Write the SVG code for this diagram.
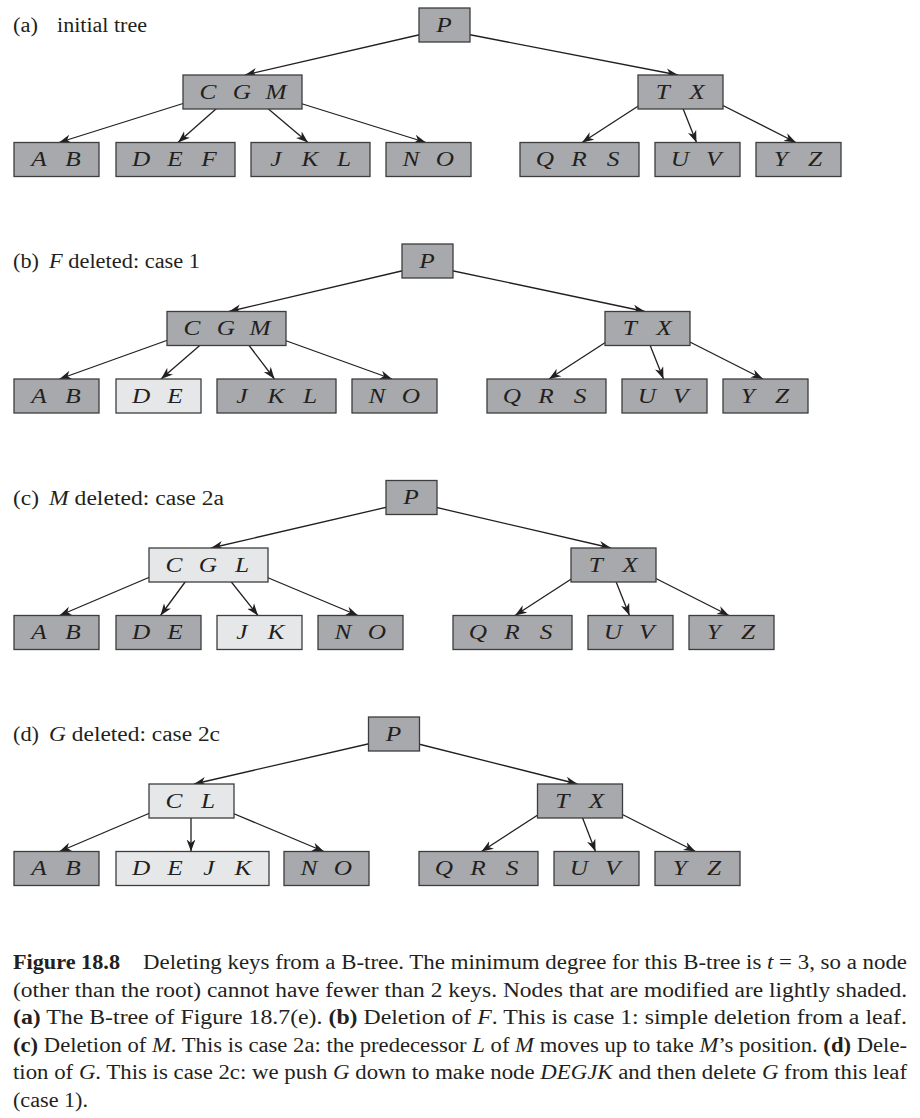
<svg xmlns="http://www.w3.org/2000/svg" width="920" height="1118" viewBox="0 0 920 1118">
<defs>
<marker id="ah" markerUnits="userSpaceOnUse" markerWidth="13" markerHeight="10" refX="12" refY="5" orient="auto" viewBox="0 0 13 10">
<path d="M0,0.6 L12,5 L0,9.4 L3.5,5 z" fill="#231f20"/>
</marker>
<style>
.dk{fill:#a7a9ac;stroke:#3d3d3d;stroke-width:1.3}
.lt{fill:#e6e7e8;stroke:#3d3d3d;stroke-width:1.3}
.k{font-family:"Liberation Serif","Times New Roman",serif;font-style:italic;font-size:22px;text-anchor:middle;fill:#231f20;transform-box:fill-box;transform-origin:center;transform:scaleX(1.15)}
.e{stroke:#231f20;stroke-width:1.3;fill:none;marker-end:url(#ah)}
.lab{font-family:"Liberation Serif","Times New Roman",serif;font-size:20px;fill:#231f20}
.cap{font-family:"Liberation Serif","Times New Roman",serif;font-size:20px;fill:#231f20}
.b{font-weight:bold}
.i{font-style:italic}
</style>
</defs>
<rect width="920" height="1118" fill="#ffffff"/>

<g id="labels">
<text class="lab" x="13" y="31.5" textLength="25" lengthAdjust="spacingAndGlyphs">(a)</text>
<text class="lab" x="57" y="31.5" textLength="90" lengthAdjust="spacingAndGlyphs">initial tree</text>
<text class="lab" x="13" y="268" textLength="26" lengthAdjust="spacingAndGlyphs">(b)</text>
<text class="lab" x="49" y="268" textLength="151" lengthAdjust="spacingAndGlyphs"><tspan class="i">F</tspan> deleted: case 1</text>
<text class="lab" x="13" y="504.5" textLength="26" lengthAdjust="spacingAndGlyphs">(c)</text>
<text class="lab" x="49" y="504.5" textLength="175" lengthAdjust="spacingAndGlyphs"><tspan class="i">M</tspan> deleted: case 2a</text>
<text class="lab" x="13" y="741" textLength="26" lengthAdjust="spacingAndGlyphs">(d)</text>
<text class="lab" x="49" y="741" textLength="171" lengthAdjust="spacingAndGlyphs"><tspan class="i">G</tspan> deleted: case 2c</text>
</g>

<g id="connectors">
<line class="e" x1="427" y1="33" x2="245" y2="75"/>
<line class="e" x1="461" y1="33" x2="678" y2="75"/>
<line class="e" x1="191" y1="101" x2="59" y2="142.5"/>
<line class="e" x1="225" y1="101" x2="178" y2="142.5"/>
<line class="e" x1="259" y1="101" x2="308" y2="142.5"/>
<line class="e" x1="293" y1="101" x2="426" y2="142.5"/>
<line class="e" x1="646" y1="101" x2="582" y2="142.5"/>
<line class="e" x1="680" y1="101" x2="696.5" y2="142.5"/>
<line class="e" x1="714" y1="101" x2="796" y2="142.5"/>

<line class="e" x1="410" y1="269" x2="229" y2="311.5"/>
<line class="e" x1="444" y1="269" x2="645" y2="311.5"/>
<line class="e" x1="175" y1="337.5" x2="59.5" y2="379"/>
<line class="e" x1="209" y1="337.5" x2="161" y2="379"/>
<line class="e" x1="243" y1="337.5" x2="274.5" y2="379"/>
<line class="e" x1="277" y1="337.5" x2="392" y2="379"/>
<line class="e" x1="613" y1="337.5" x2="549" y2="379"/>
<line class="e" x1="647" y1="337.5" x2="663.5" y2="379"/>
<line class="e" x1="681" y1="337.5" x2="763" y2="379"/>

<line class="e" x1="394" y1="505.5" x2="211" y2="548"/>
<line class="e" x1="428" y1="505.5" x2="611" y2="548"/>
<line class="e" x1="157" y1="574" x2="59.5" y2="615.5"/>
<line class="e" x1="191" y1="574" x2="160.5" y2="615.5"/>
<line class="e" x1="225" y1="574" x2="258" y2="615.5"/>
<line class="e" x1="259" y1="574" x2="358" y2="615.5"/>
<line class="e" x1="579" y1="574" x2="515" y2="615.5"/>
<line class="e" x1="613" y1="574" x2="629.5" y2="615.5"/>
<line class="e" x1="647" y1="574" x2="729" y2="615.5"/>

<line class="e" x1="376.5" y1="742" x2="194" y2="784"/>
<line class="e" x1="410.5" y1="742" x2="577.5" y2="784"/>
<line class="e" x1="157" y1="810" x2="59.5" y2="851.5"/>
<line class="e" x1="191" y1="810" x2="191" y2="851.5"/>
<line class="e" x1="225" y1="810" x2="324" y2="851.5"/>
<line class="e" x1="545.5" y1="810" x2="481.5" y2="851.5"/>
<line class="e" x1="579.5" y1="810" x2="595.5" y2="851.5"/>
<line class="e" x1="613.5" y1="810" x2="695.5" y2="851.5"/>
</g>

<g id="a-P"><rect class="dk" x="419" y="8" width="51" height="34"/><text class="k" x="444" y="32">P</text></g>
<g id="a-CGM"><rect class="dk" x="183" y="75" width="119" height="34"/><text class="k" x="208" y="99">C</text><text class="k" x="242" y="99">G</text><text class="k" x="276" y="99">M</text></g>
<g id="a-TX"><rect class="dk" x="638" y="75" width="85" height="34"/><text class="k" x="663" y="99">T</text><text class="k" x="697" y="99">X</text></g>
<g id="a-AB"><rect class="dk" x="14" y="142.5" width="85" height="34"/><text class="k" x="39" y="166.5">A</text><text class="k" x="73" y="166.5">B</text></g>
<g id="a-DEF"><rect class="dk" x="116" y="142.5" width="119" height="34"/><text class="k" x="141" y="166.5">D</text><text class="k" x="175" y="166.5">E</text><text class="k" x="209" y="166.5">F</text></g>
<g id="a-JKL"><rect class="dk" x="251" y="142.5" width="119" height="34"/><text class="k" x="276" y="166.5">J</text><text class="k" x="310" y="166.5">K</text><text class="k" x="344" y="166.5">L</text></g>
<g id="a-NO"><rect class="dk" x="386" y="142.5" width="85" height="34"/><text class="k" x="411" y="166.5">N</text><text class="k" x="445" y="166.5">O</text></g>
<g id="a-QRS"><rect class="dk" x="520" y="142.5" width="119" height="34"/><text class="k" x="545" y="166.5">Q</text><text class="k" x="579" y="166.5">R</text><text class="k" x="613" y="166.5">S</text></g>
<g id="a-UV"><rect class="dk" x="655" y="142.5" width="85" height="34"/><text class="k" x="680" y="166.5">U</text><text class="k" x="714" y="166.5">V</text></g>
<g id="a-YZ"><rect class="dk" x="756" y="142.5" width="85" height="34"/><text class="k" x="781" y="166.5">Y</text><text class="k" x="815" y="166.5">Z</text></g>

<g id="b-P"><rect class="dk" x="402" y="244" width="51" height="34"/><text class="k" x="427" y="268">P</text></g>
<g id="b-CGM"><rect class="dk" x="167" y="311.5" width="119" height="34"/><text class="k" x="192" y="335.5">C</text><text class="k" x="226" y="335.5">G</text><text class="k" x="260" y="335.5">M</text></g>
<g id="b-TX"><rect class="dk" x="605" y="311.5" width="85" height="34"/><text class="k" x="630" y="335.5">T</text><text class="k" x="664" y="335.5">X</text></g>
<g id="b-AB"><rect class="dk" x="14" y="379" width="85" height="34"/><text class="k" x="39" y="403">A</text><text class="k" x="73" y="403">B</text></g>
<g id="b-DE"><rect class="lt" x="116" y="379" width="85" height="34"/><text class="k" x="141" y="403">D</text><text class="k" x="175" y="403">E</text></g>
<g id="b-JKL"><rect class="dk" x="217" y="379" width="119" height="34"/><text class="k" x="242" y="403">J</text><text class="k" x="276" y="403">K</text><text class="k" x="310" y="403">L</text></g>
<g id="b-NO"><rect class="dk" x="352" y="379" width="85" height="34"/><text class="k" x="377" y="403">N</text><text class="k" x="411" y="403">O</text></g>
<g id="b-QRS"><rect class="dk" x="487" y="379" width="119" height="34"/><text class="k" x="512" y="403">Q</text><text class="k" x="546" y="403">R</text><text class="k" x="580" y="403">S</text></g>
<g id="b-UV"><rect class="dk" x="622" y="379" width="85" height="34"/><text class="k" x="647" y="403">U</text><text class="k" x="681" y="403">V</text></g>
<g id="b-YZ"><rect class="dk" x="723" y="379" width="85" height="34"/><text class="k" x="748" y="403">Y</text><text class="k" x="782" y="403">Z</text></g>

<g id="c-P"><rect class="dk" x="386" y="480.5" width="51" height="34"/><text class="k" x="411" y="504.5">P</text></g>
<g id="c-CGL"><rect class="lt" x="149" y="548" width="119" height="34"/><text class="k" x="174" y="572">C</text><text class="k" x="208" y="572">G</text><text class="k" x="242" y="572">L</text></g>
<g id="c-TX"><rect class="dk" x="571" y="548" width="85" height="34"/><text class="k" x="596" y="572">T</text><text class="k" x="630" y="572">X</text></g>
<g id="c-AB"><rect class="dk" x="14" y="615.5" width="85" height="34"/><text class="k" x="39" y="639.5">A</text><text class="k" x="73" y="639.5">B</text></g>
<g id="c-DE"><rect class="dk" x="116" y="615.5" width="85" height="34"/><text class="k" x="141" y="639.5">D</text><text class="k" x="175" y="639.5">E</text></g>
<g id="c-JK"><rect class="lt" x="217" y="615.5" width="85" height="34"/><text class="k" x="242" y="639.5">J</text><text class="k" x="276" y="639.5">K</text></g>
<g id="c-NO"><rect class="dk" x="318" y="615.5" width="85" height="34"/><text class="k" x="343" y="639.5">N</text><text class="k" x="377" y="639.5">O</text></g>
<g id="c-QRS"><rect class="dk" x="453" y="615.5" width="119" height="34"/><text class="k" x="478" y="639.5">Q</text><text class="k" x="512" y="639.5">R</text><text class="k" x="546" y="639.5">S</text></g>
<g id="c-UV"><rect class="dk" x="588" y="615.5" width="85" height="34"/><text class="k" x="613" y="639.5">U</text><text class="k" x="647" y="639.5">V</text></g>
<g id="c-YZ"><rect class="dk" x="689" y="615.5" width="85" height="34"/><text class="k" x="714" y="639.5">Y</text><text class="k" x="748" y="639.5">Z</text></g>

<g id="d-P"><rect class="dk" x="368.5" y="717" width="51" height="34"/><text class="k" x="393.5" y="741">P</text></g>
<g id="d-CL"><rect class="lt" x="149" y="784" width="85" height="34"/><text class="k" x="174" y="808">C</text><text class="k" x="208" y="808">L</text></g>
<g id="d-TX"><rect class="dk" x="537.5" y="784" width="85" height="34"/><text class="k" x="562.5" y="808">T</text><text class="k" x="596.5" y="808">X</text></g>
<g id="d-AB"><rect class="dk" x="14" y="851.5" width="85" height="34"/><text class="k" x="39" y="875.5">A</text><text class="k" x="73" y="875.5">B</text></g>
<g id="d-DEJK"><rect class="lt" x="116" y="851.5" width="153" height="34"/><text class="k" x="141" y="875.5">D</text><text class="k" x="175" y="875.5">E</text><text class="k" x="209" y="875.5">J</text><text class="k" x="243" y="875.5">K</text></g>
<g id="d-NO"><rect class="dk" x="284" y="851.5" width="85" height="34"/><text class="k" x="309" y="875.5">N</text><text class="k" x="343" y="875.5">O</text></g>
<g id="d-QRS"><rect class="dk" x="419" y="851.5" width="119" height="34"/><text class="k" x="444" y="875.5">Q</text><text class="k" x="478" y="875.5">R</text><text class="k" x="512" y="875.5">S</text></g>
<g id="d-UV"><rect class="dk" x="554" y="851.5" width="85" height="34"/><text class="k" x="579" y="875.5">U</text><text class="k" x="613" y="875.5">V</text></g>
<g id="d-YZ"><rect class="dk" x="655" y="851.5" width="85" height="34"/><text class="k" x="680" y="875.5">Y</text><text class="k" x="714" y="875.5">Z</text></g>

<g id="caption">
<text class="cap b" x="13" y="969" textLength="107" lengthAdjust="spacingAndGlyphs">Figure 18.8</text>
<text class="cap" x="143" y="969" textLength="764" lengthAdjust="spacingAndGlyphs">Deleting keys from a B-tree. The minimum degree for this B-tree is <tspan class="i">t</tspan> = 3, so a node</text>
<text class="cap" x="13" y="996.5" textLength="894" lengthAdjust="spacingAndGlyphs">(other than the root) cannot have fewer than 2 keys.  Nodes that are modified are lightly shaded.</text>
<text class="cap" x="13" y="1024" textLength="894" lengthAdjust="spacingAndGlyphs"><tspan class="b">(a)</tspan> The B-tree of Figure 18.7(e).  <tspan class="b">(b)</tspan> Deletion of <tspan class="i">F</tspan>.  This is case 1: simple deletion from a leaf.</text>
<text class="cap" x="13" y="1051.5" textLength="894" lengthAdjust="spacingAndGlyphs"><tspan class="b">(c)</tspan> Deletion of <tspan class="i">M</tspan>. This is case 2a: the predecessor <tspan class="i">L</tspan> of <tspan class="i">M</tspan> moves up to take <tspan class="i">M</tspan>’s position. <tspan class="b">(d)</tspan> Dele-</text>
<text class="cap" x="13" y="1079" textLength="894" lengthAdjust="spacingAndGlyphs">tion of <tspan class="i">G</tspan>. This is case 2c: we push <tspan class="i">G</tspan> down to make node <tspan class="i">DEGJK</tspan> and then delete <tspan class="i">G</tspan> from this leaf</text>
<text class="cap" x="13" y="1106.5" textLength="75" lengthAdjust="spacingAndGlyphs">(case 1).</text>
</g>
</svg>
